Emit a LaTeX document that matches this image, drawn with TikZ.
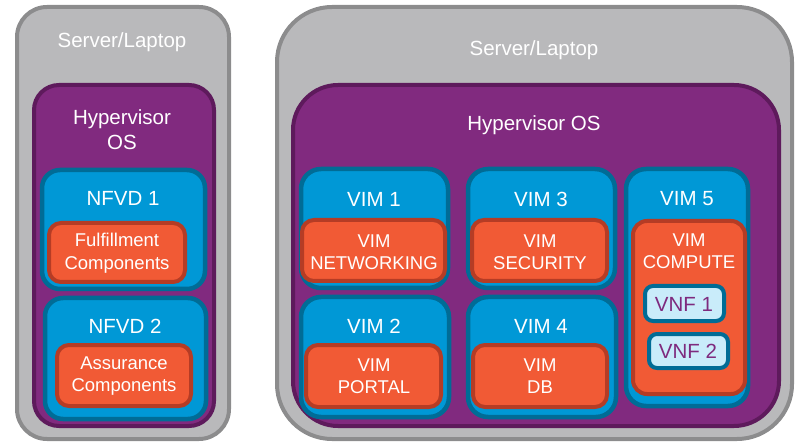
\documentclass[tikz,border=0pt]{standalone}
\usepackage{fontspec}
\setmainfont{Liberation Sans}
\definecolor{srvfill}{HTML}{B9B9BB}
\definecolor{srvline}{HTML}{8C8C8D}
\definecolor{hypfill}{HTML}{812A7F}
\definecolor{hypline}{HTML}{5E1A5C}
\definecolor{vimfill}{HTML}{0098D6}
\definecolor{vimline}{HTML}{006C96}
\definecolor{orfill}{HTML}{F15A35}
\definecolor{orline}{HTML}{B53C25}
\definecolor{vnffill}{HTML}{C9ECFA}
\definecolor{vnftext}{HTML}{7E2A7E}
\newcommand\mybox[6]{\node[#6, minimum width={(#4-#2)*1pt}, minimum height={(#5-#3)*1pt}] (#1) at ({(#2+#4)/2},{(#3+#5)/2}) {};}
\tikzset{
  base/.style={rectangle, inner sep=0pt, outer sep=0pt},
  srv/.style={base, fill=srvfill, draw=srvline, line width=4pt},
  hyp/.style={base, fill=hypfill, draw=hypline, line width=4pt},
  vim/.style={base, fill=vimfill, draw=vimline, line width=4.5pt, rounded corners=20pt},
  orb/.style={base, fill=orfill, draw=orline, line width=4pt, rounded corners=12pt},
  vnf/.style={base, fill=vnffill, draw=vimline, line width=4pt, rounded corners=8pt},
  big/.style={text=white, font=\fontsize{20.5}{25}\selectfont, align=center, inner sep=0pt},
  sml/.style={text=white, font=\fontsize{18.5}{22.5}\selectfont, align=center, inner sep=0pt},
  vnft/.style={text=vnftext, font=\fontsize{20.5}{24}\selectfont, inner sep=0pt}
}
\begin{document}
\begin{tikzpicture}[x=1pt,y=-1pt]
\useasboundingbox (0,0) rectangle (797,443);
% left server
\mybox{ls}{17}{7}{229}{439}{srv, rounded corners=30pt}
\mybox{lh}{34}{85}{214}{426}{hyp, rounded corners=25pt}
\mybox{nf1}{42}{170}{205}{289}{vim, rounded corners=18pt}
\mybox{ful}{49}{223}{185}{282}{orb}
\mybox{nf2}{45}{298}{206}{419}{vim, rounded corners=18pt}
\mybox{asr}{57}{345}{191}{406}{orb}
\node[big] (lst) at (122,42) {Server/Laptop};
\node[big] (lht) at (122,130) {Hypervisor\\OS};
\node[big] (nf1t) at (123,198) {NFVD 1};
\node[sml] (fult) at (117,253) {Fulfillment\\Components};
\node[big] (nf2t) at (125,326) {NFVD 2};
\node[sml] (asrt) at (124,376) {Assurance\\Components};
% right server
\mybox{rs}{277}{7}{792}{439}{srv, rounded corners=55pt}
\mybox{rh}{293}{85}{779}{426}{hyp, rounded corners=45pt}
\node[big] (rst) at (534,50) {Server/Laptop};
\node[big] (rht) at (534,125) {Hypervisor OS};
\mybox{v1}{301}{169}{448}{288}{vim}
\mybox{net}{302}{220}{445}{281}{orb}
\mybox{v3}{468}{169}{615}{288}{vim}
\mybox{sec}{472}{220}{607}{281}{orb}
\mybox{v2}{301}{297}{449}{417}{vim}
\mybox{por}{306}{345}{441}{407}{orb}
\mybox{v4}{468}{297}{616}{417}{vim}
\mybox{db}{473}{345}{607}{407}{orb}
\mybox{v5}{626}{169}{748}{406}{vim}
\mybox{cmp}{633}{221}{745}{394}{orb, rounded corners=14pt}
\mybox{vn1}{645}{286}{724}{321}{vnf}
\mybox{vn2}{649}{334}{728}{368}{vnf}
\node[big] (v1t) at (374,199) {VIM 1};
\node[sml] (nett) at (374,252) {VIM\\NETWORKING};
\node[big] (v3t) at (541,199) {VIM 3};
\node[sml] (sect) at (540,252) {VIM\\SECURITY};
\node[big] (v2t) at (374,326) {VIM 2};
\node[sml] (port) at (374,376) {VIM\\PORTAL};
\node[big] (v4t) at (541,326) {VIM 4};
\node[sml] (dbt) at (540,376) {VIM\\DB};
\node[big] (v5t) at (687,199) {VIM 5};
\node[sml] (cmpt) at (689,251) {VIM\\COMPUTE};
\node[vnft] (vn1t) at (684,304) {VNF 1};
\node[vnft] (vn2t) at (688,351) {VNF 2};
\end{tikzpicture}
\end{document}
